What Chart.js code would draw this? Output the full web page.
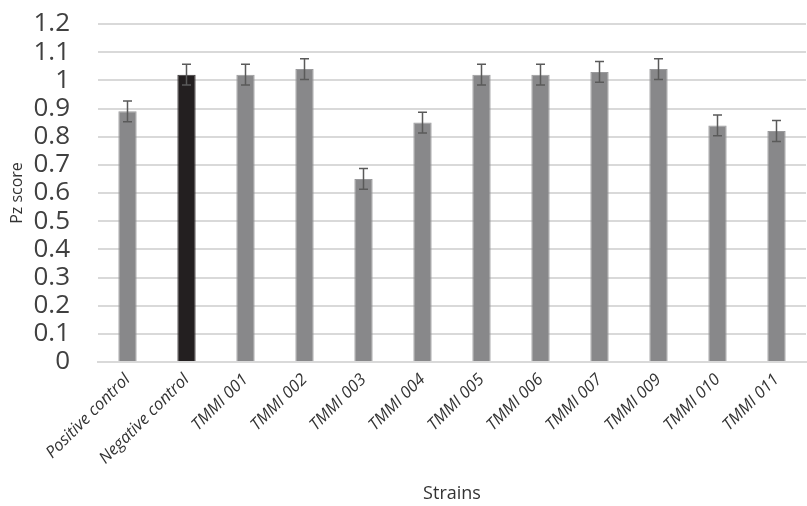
<!DOCTYPE html>
<html>
<head>
<meta charset="utf-8">
<script src="https://cdn.jsdelivr.net/npm/chart.js@4/dist/chart.umd.min.js"></script>
<style>
html,body{margin:0;padding:0;background:#fff;}
#wrap{width:807px;height:506px;position:relative;}
</style>
</head>
<body>
<div id="wrap"><canvas id="c" width="807" height="506"></canvas></div>
<script>
const categories = ["Positive control","Negative control","TMMI 001","TMMI 002","TMMI 003","TMMI 004","TMMI 005","TMMI 006","TMMI 007","TMMI 009","TMMI 010","TMMI 011"];
const pzScores = [0.89, 1.02, 1.02, 1.04, 0.65, 0.85, 1.02, 1.02, 1.03, 1.04, 0.84, 0.82];
const pzErrors = [0.037, 0.037, 0.037, 0.037, 0.037, 0.037, 0.037, 0.037, 0.037, 0.037, 0.037, 0.037];
const barColors = ["#88888a","#231f20","#88888a","#88888a","#88888a","#88888a","#88888a","#88888a","#88888a","#88888a","#88888a","#88888a"];

const errorBarPlugin = {
  id: 'errorBars',
  afterDatasetsDraw(chart) {
    const ctx = chart.ctx;
    const y = chart.scales.y;
    const meta = chart.getDatasetMeta(0);
    ctx.save();
    ctx.strokeStyle = '#5a5a5a';
    ctx.lineWidth = 1.5;
    meta.data.forEach((bar, i) => {
      const v = pzScores[i], e = pzErrors[i];
      const yt = y.getPixelForValue(v + e), yb = y.getPixelForValue(v - e);
      const x = bar.x, cw = 4.5;
      ctx.beginPath();
      ctx.moveTo(x, yt); ctx.lineTo(x, yb);
      ctx.moveTo(x - cw, yt); ctx.lineTo(x + cw, yt);
      ctx.moveTo(x - cw, yb); ctx.lineTo(x + cw, yb);
      ctx.stroke();
    });
    ctx.restore();
  }
};

new Chart(document.getElementById('c'), {
  type: 'bar',
  data: {
    labels: categories,
    datasets: [{
      data: pzScores,
      backgroundColor: barColors,
      borderColor: barColors.map(c => c === '#231f20' ? '#3a3637' : '#9a9a9c'),
      borderWidth: 1,
      barPercentage: 0.31,
      categoryPercentage: 1.0
    }]
  },
  options: {
    responsive: false,
    animation: false,
    devicePixelRatio: 1,
    layout: { padding: { top: 24, right: 1, left: 0, bottom: 0 } },
    plugins: { legend: { display: false }, tooltip: { enabled: false } },
    scales: {
      x: {
        afterFit(scale) { scale.height = 144; },
        grid: { display: false, drawTicks: false },
        border: { color: '#d9d9d9', width: 2 },
        ticks: {
          autoSkip: false,
          maxRotation: 45, minRotation: 45, padding: 8,
          color: '#333333',
          font: { family: 'Open Sans', size: 16.5, style: 'italic' }
        },
        title: {
          display: true, text: 'Strains', color: '#333333',
          font: { family: 'Open Sans', size: 18 }, padding: { top: 0, bottom: 1 }
        }
      },
      y: {
        min: 0, max: 1.2,
        afterFit(scale) { scale.width = 98; },
        grid: { color: '#d9d9d9', lineWidth: 2, drawTicks: true, tickLength: 28, tickColor: 'rgba(0,0,0,0)' },
        border: { display: false },
        ticks: {
          autoSkip: false,
          stepSize: 0.1, padding: 0, color: '#404040',
          font: { family: 'Open Sans', size: 26 },
          callback: v => String(+v.toFixed(1))
        },
        title: {
          display: true, text: 'Pz score', color: '#333333',
          font: { family: 'Open Sans', size: 16 }, padding: { top: 8, bottom: 0 }
        }
      }
    }
  },
  plugins: [errorBarPlugin]
});
</script>
</body>
</html>
